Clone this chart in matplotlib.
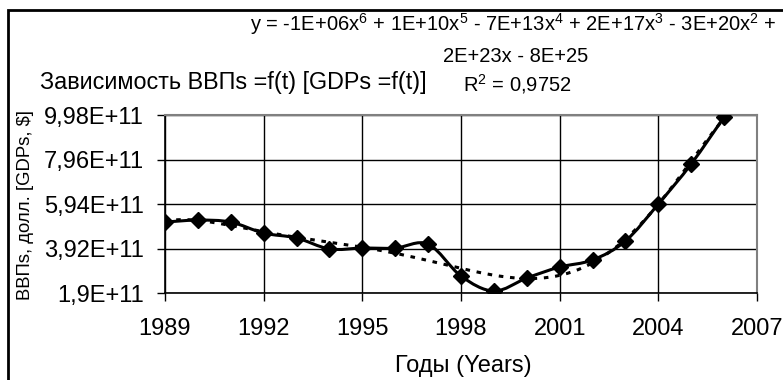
import numpy as np
import matplotlib
matplotlib.use("Agg")
import matplotlib.pyplot as plt
from matplotlib.path import Path
from matplotlib.patches import PathPatch, Rectangle

plt.rcParams['font.family'] = ['Liberation Sans', 'DejaVu Sans']
plt.rcParams['mathtext.fontset'] = 'custom'
plt.rcParams['mathtext.rm'] = 'Liberation Sans'
plt.rcParams['mathtext.it'] = 'Liberation Sans'

# данные (ВВП по годам)
years = [1989, 1990, 1991, 1992, 1993, 1994, 1995, 1996, 1997,
         1998, 1999, 2000, 2001, 2002, 2003, 2004, 2005, 2006]
gdp = [5.12e11, 5.21e11, 5.12e11, 4.62e11, 4.40e11, 3.90e11, 3.94e11, 3.94e11, 4.12e11,
       2.67e11, 1.99e11, 2.58e11, 3.08e11, 3.40e11, 4.26e11, 5.94e11, 7.76e11, 9.89e11]

y_ticks = [1.9e11, 3.92e11, 5.94e11, 7.96e11, 9.98e11]
y_labels = ['1,9E+11', '3,92E+11', '5,94E+11', '7,96E+11', '9,98E+11']
x_ticks = [1989, 1992, 1995, 1998, 2001, 2004, 2007]

fig = plt.figure(figsize=(7.83, 3.80), dpi=100)
ax = fig.add_axes([0.2107, 0.2289, 0.7561, 0.4684])

# сглаженная линия (как в Excel) через кривые Безье
px = np.array(years, dtype=float)
py = np.array(gdp, dtype=float)
n = len(px)
verts = [(px[0], py[0])]
codes = [Path.MOVETO]
for i in range(n - 1):
    i0 = max(i - 1, 0)
    i3 = min(i + 2, n - 1)
    c1 = (px[i] + (px[i + 1] - px[i0]) / 6, py[i] + (py[i + 1] - py[i0]) / 6)
    c2 = (px[i + 1] - (px[i3] - px[i]) / 6, py[i + 1] - (py[i3] - py[i]) / 6)
    verts += [c1, c2, (px[i + 1], py[i + 1])]
    codes += [Path.CURVE4] * 3
ax.add_patch(PathPatch(Path(verts, codes), fill=False, lw=2.2, color='black', zorder=3))
ax.plot(years, gdp, linestyle='none', marker='D', ms=8, color='black', zorder=4)

# полиномиальный тренд 6-й степени
poly = np.polynomial.Polynomial.fit(px, py, 6)
tx = np.linspace(1989, 2006, 300)
ax.plot(tx, poly(tx), color='black', lw=2.2, linestyle=(0, (1.5, 2.2)), zorder=2)

ax.set_xlim(1989, 2007)
ax.set_ylim(1.9e11, 9.98e11)
ax.set_xticks(x_ticks)
ax.set_yticks(y_ticks)
ax.set_yticklabels(y_labels)
ax.tick_params(direction='out', length=6, width=1, labelsize=17, colors='black')
ax.tick_params(axis='y', pad=9)
ax.tick_params(axis='x', pad=12)
ax.grid(True, color='black', lw=1)
ax.set_axisbelow(True)
for s in ['top', 'right']:
    ax.spines[s].set_color('gray')
    ax.spines[s].set_linewidth(1.5)
for s in ['left', 'bottom']:
    ax.spines[s].set_linewidth(1.2)

fig.text(463 / 783, 1 - 366 / 380, 'Годы (Years)', fontsize=17, ha='center', va='center')
fig.text(0.032, 0.46, 'ВВПs, долл. [GDPs, $]', rotation=90, fontsize=13.3,
         ha='center', va='center')

fig.text(0.051, 0.782, 'Зависимость ВВПs =f(t) [GDPs =f(t)]', fontsize=16.8, ha='left', va='center')
fig.text(0.656, 0.937, 'y = -1E+06x$^6$ + 1E+10x$^5$ - 7E+13x$^4$ + 2E+17x$^3$ - 3E+20x$^2$ +',
         fontsize=14.5, ha='center', va='center')
fig.text(0.658, 0.852, '2E+23x - 8E+25', fontsize=14.5, ha='center', va='center')
fig.text(0.661, 0.778, 'R$^2$ = 0,9752', fontsize=14.5, ha='center', va='center')

# рамка диаграммы
fig.patches.append(Rectangle((8 / 783, -0.1), 1.2, 1.1 - 10 / 380,
                             transform=fig.transFigure, fill=False, lw=2, color='black'))

fig.savefig('out.png', dpi=100)
